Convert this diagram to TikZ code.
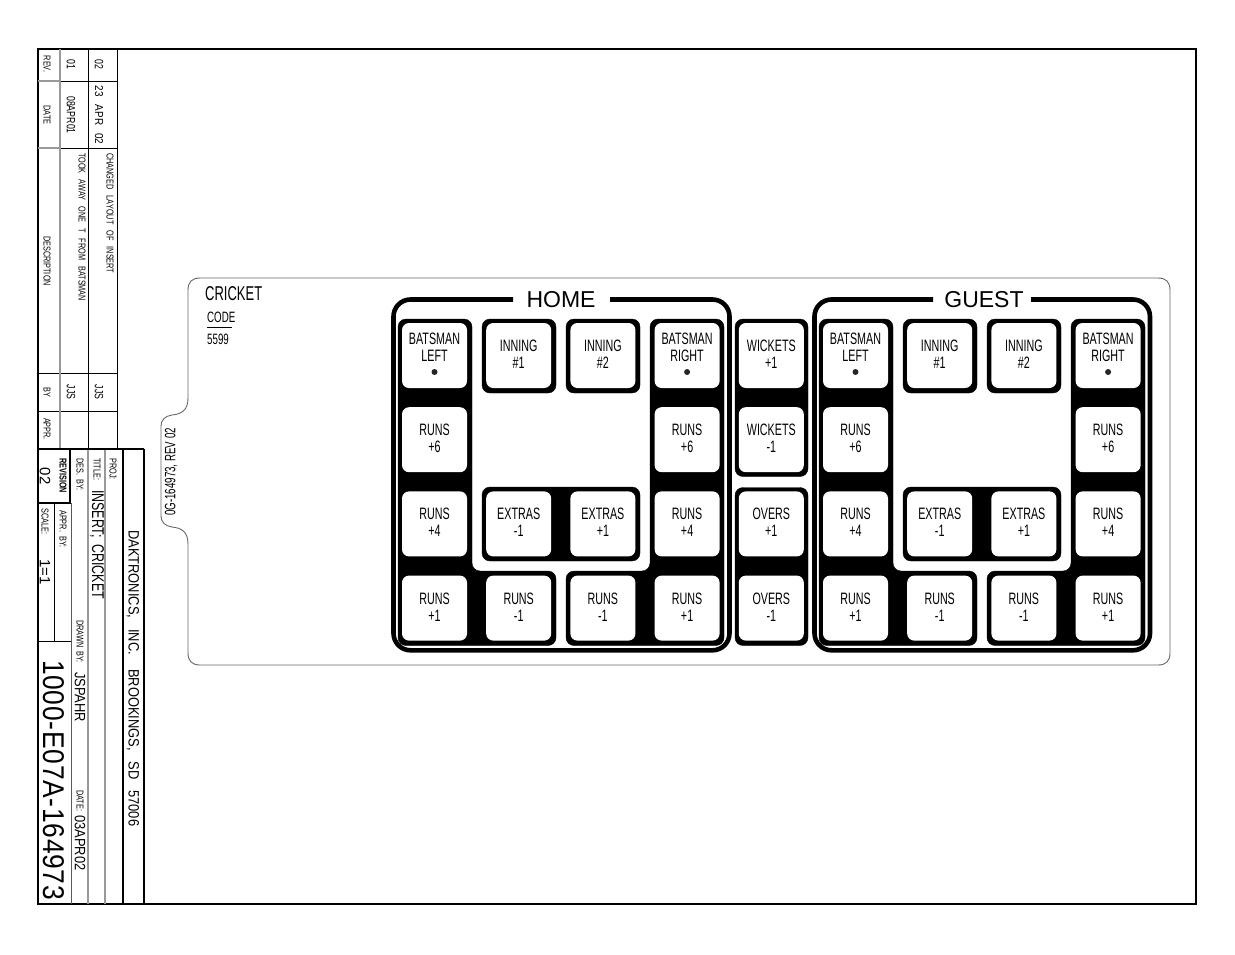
\documentclass[tikz,border=0pt]{standalone}
\usepackage{fontspec}
\setmainfont{Liberation Sans}
\newfontfamily\narrowfont[FakeStretch=0.73]{Liberation Sans}
\newfontfamily\keyfont[FakeStretch=0.65]{Liberation Sans}
\newfontfamily\midfont[FakeStretch=0.86]{Liberation Sans}
\newfontfamily\numberfont[FakeStretch=0.88,LetterSpace=2.4]{Liberation Sans}
\usetikzlibrary{positioning}
\tikzstyle{button} = [rectangle, rounded corners=7pt, minimum width=65pt, minimum height=65pt, inner sep=0pt, align=center, fill=white, text depth=2.5pt, font=\keyfont\fontsize{16.5}{17}\selectfont]
\tikzstyle{batbutton} = [button, text depth=0pt]
\tikzstyle{back} = [fill=black, rounded corners=8pt]
\tikzstyle{ring} = [draw=black, line width=4.6pt, rounded corners=17pt]
\tikzstyle{dotmark} = [circle, fill=black!85, minimum size=6pt, inner sep=0pt]
\tikzstyle{heading} = [inner sep=0pt, font=\fontsize{23}{25}\selectfont]
\tikzstyle{tiny} = [rotate=-90, anchor=west, inner sep=0pt, font=\narrowfont\fontsize{10}{12}\selectfont]
\tikzstyle{tinymid} = [rotate=-90, inner sep=0pt, font=\narrowfont\fontsize{10}{12}\selectfont]
\tikzstyle{entry} = [rotate=-90, inner sep=0pt, font=\narrowfont\fontsize{12}{14}\selectfont]
\tikzstyle{greyline} = [draw=black!40, line width=1.6pt]
\tikzstyle{thinline} = [draw=black, line width=0.9pt]
\tikzstyle{heavyline} = [draw=black, line width=2pt]

\begin{document}
\begin{tikzpicture}[x=1pt, y=-1pt, node distance=84.2pt]
    \useasboundingbox (0,0) rectangle (1235,954);
    % sheet and title block
    \draw [heavyline] (38,49) rectangle (1196,904);
    \draw [thinline] (38,81) -- (117,81);
    \draw [thinline] (38,148) -- (117,148);
    \draw [thinline] (38,373) -- (117,373);
    \draw [thinline] (38,411) -- (117,411);
    \draw [greyline] (38,81) -- (60,81);
    \draw [greyline] (38,148) -- (60,148);
    \draw [greyline] (60,49) -- (60,449);
    \draw [thinline] (88,49) -- (88,449);
    \draw [thinline] (117,49) -- (117,449);
    \draw [greyline] (88,449) -- (88,904);
    \draw [greyline] (105,449) -- (105,904);
    \draw [draw=black!65, line width=1pt] (71,503) -- (71,904);
    \draw [thinline, line width=1.2pt] (123,449) -- (123,904);
    \draw [thinline] (38,641) -- (71,641);
    \draw [thinline] (54,503) -- (54,641);
    \draw [heavyline] (38,449) -- (144,449);
    \draw [heavyline] (144,449) -- (144,904);
    \draw [heavyline] (70,449) -- (70,503) -- (38,503);

    \node (revhead) [tinymid] at (47,64) {REV.};
    \node (datehead) [tinymid] at (47,115) {DATE};
    \node (deschead) [tinymid] at (47,261) {DESCRIPTION};
    \node (byhead) [tinymid] at (47,392) {BY};
    \node (apprhead) [tinymid] at (47,429) {APPR.};
    \node (revone) [entry] at (71,64) {01};
    \node (dateone) [entry] at (71,115) {08APR01};
    \node (descone) [tiny] at (82,153) {TOOK\ \ \ AWAY\ \ \ ONE\ \ \ T\ \ \ FROM\ \ \ BATSMAN};
    \node (byone) [entry] at (71,392) {JJS};
    \node (revtwo) [entry] at (99,64) {02};
    \node (datetwo) [entry, font=\midfont\fontsize{11.5}{14}\selectfont] at (99,115) {23\ \ \ APR\ \ \ 02};
    \node (desctwo) [tiny] at (110,153) {CHANGED\ \ \ LAYOUT\ \ \ OF\ \ \ INSERT};
    \node (bytwo) [entry] at (99,392) {JJS};

    \node (revlabel) [tiny, font=\narrowfont\bfseries\fontsize{10}{12}\selectfont] at (63,458) {REVISION};
    \node (revvalue) [tinymid, font=\fontsize{15}{17}\selectfont] at (45,476) {02};
    \node (scalelabel) [tiny] at (45,508) {SCALE:};
    \node (scalevalue) [tinymid, font=\fontsize{15}{17}\selectfont] at (45,572) {1=1};
    \node (apprlabel) [tiny] at (63,510) {APPR.\ \ BY:};
    \node (deslabel) [tiny] at (80,458) {DES.\ \ BY:};
    \node (titlelabel) [tiny] at (97,458) {TITLE:};
    \node (titlevalue) [tiny, font=\narrowfont\fontsize{17}{19}\selectfont] at (97,490) {INSERT;\ \ CRICKET};
    \node (projlabel) [tiny] at (113,458) {PROJ:};
    \node (drawnlabel) [tiny] at (80,620) {DRAWN\ \ BY:};
    \node (drawnvalue) [tiny, font=\midfont\fontsize{15}{17}\selectfont] at (80,672) {JSPAHR};
    \node (datelabel) [tiny] at (80,790) {DATE:};
    \node (datevalue) [tiny, font=\midfont\fontsize{15}{17}\selectfont] at (80,815) {03APR02};
    \node (company) [tiny, font=\midfont\fontsize{15}{17}\selectfont] at (133,530) {DAKTRONICS,\ \ \ INC.\ \ \ \ BROOKINGS,\ \ \ SD\ \ \ 57006};
    \node (drawingno) [tiny, font=\numberfont\fontsize{30}{32}\selectfont] at (53.5,660) {1000-E07A-164973};

    % insert outline with tab
    \draw [draw=black!60, line width=0.9pt] (200,278) -- (1158,278) .. controls (1166,278) and (1170,282) .. (1170,290) -- (1170,653) .. controls (1170,661) and (1166,665) .. (1158,665) -- (200,665) .. controls (192,665) and (188,661) .. (188,653) -- (188,544) .. controls (188,532) and (182,528) .. (172,527) .. controls (165,526) and (161,522) .. (161,516) -- (161,426) .. controls (161,420) and (165,416) .. (172,415) .. controls (182,414) and (188,410) .. (188,398) -- (188,290) .. controls (188,282) and (192,278) .. (200,278);
    \node (tabtext) [rotate=90, inner sep=0pt, font=\keyfont\fontsize{15}{17}\selectfont] at (171,472) {0G-164973, REV 02};
    \node (cricket) [anchor=west, inner sep=0pt, font=\keyfont\fontsize{20}{22}\selectfont] at (205,293.5) {CRICKET};
    \node (codelabel) [anchor=west, inner sep=0pt, font=\keyfont\fontsize{15}{17}\selectfont] at (207,317) {CODE};
    \node (codevalue) [anchor=west, inner sep=0pt, font=\keyfont\fontsize{15}{17}\selectfont] at (207,339) {5599};
    \draw [thinline] (207,327) -- (232,327);

    % black backs, home
    \draw [back] (398,319) -- (472,319) -- (472,571) -- (556,571) -- (556,645.5) -- (398,645.5) -- cycle;
    \draw [back] (724,319) -- (650,319) -- (650,571) -- (566,571) -- (566,645.5) -- (724,645.5) -- cycle;
    \draw [back] (482,319) rectangle (556,393);
    \draw [back] (566,319) rectangle (640,393);
    \draw [back] (482,487) rectangle (640,561);
    % black backs, middle
    \draw [back] (735,319) rectangle (808,476.5);
    \draw [back] (735,487.5) rectangle (808,645.5);
    % black backs, guest
    \draw [back] (819,319) -- (893,319) -- (893,571) -- (977,571) -- (977,645.5) -- (819,645.5) -- cycle;
    \draw [back] (1145,319) -- (1071,319) -- (1071,571) -- (987,571) -- (987,645.5) -- (1145,645.5) -- cycle;
    \draw [back] (903,319) rectangle (977,393);
    \draw [back] (987,319) rectangle (1061,393);
    \draw [back] (903,487) rectangle (1061,561);

    \draw [ring] (513,299.5) -- (393.5,299.5) -- (393.5,650.3) -- (729.5,650.3) -- (729.5,299.5) -- (610,299.5);
    \draw [ring] (933,299.5) -- (814.5,299.5) -- (814.5,650.3) -- (1150,650.3) -- (1150,299.5) -- (1031,299.5);
    \node (home) [heading] at (561,300) {HOME};
    \node (guest) [heading] at (984,300) {GUEST};

    % top row
    \node (batleft) [batbutton] at (434.5,355.5) {BATSMAN\\LEFT\\};
    \node (innone) [button, right of=batleft] {INNING\\\#1};
    \node (inntwo) [button, right of=innone] {INNING\\\#2};
    \node (batright) [batbutton, right of=inntwo] {BATSMAN\\RIGHT\\};
    \node (wickup) [button, right of=batright] {WICKETS\\+1};
    \node (gbatleft) [batbutton, right of=wickup] {BATSMAN\\LEFT\\};
    \node (ginnone) [button, right of=gbatleft] {INNING\\\#1};
    \node (ginntwo) [button, right of=ginnone] {INNING\\\#2};
    \node (gbatright) [batbutton, right of=ginntwo] {BATSMAN\\RIGHT\\};
    \node (dotleft) [dotmark] at ([yshift=-16.5pt]batleft.center) {};
    \node (dotright) [dotmark] at ([yshift=-16.5pt]batright.center) {};
    \node (gdotleft) [dotmark] at ([yshift=-16.5pt]gbatleft.center) {};
    \node (gdotright) [dotmark] at ([yshift=-16.5pt]gbatright.center) {};

    % second row
    \node (sixleft) [button, below of=batleft] {RUNS\\+6};
    \node (sixright) [button, below of=batright] {RUNS\\+6};
    \node (wickdown) [button, below of=wickup] {WICKETS\\-1};
    \node (gsixleft) [button, below of=gbatleft] {RUNS\\+6};
    \node (gsixright) [button, below of=gbatright] {RUNS\\+6};

    % third row
    \node (fourleft) [button, below of=sixleft] {RUNS\\+4};
    \node (extdown) [button, right of=fourleft] {EXTRAS\\-1};
    \node (extup) [button, right of=extdown] {EXTRAS\\+1};
    \node (fourright) [button, below of=sixright] {RUNS\\+4};
    \node (oversup) [button, below of=wickdown] {OVERS\\+1};
    \node (gfourleft) [button, below of=gsixleft] {RUNS\\+4};
    \node (gextdown) [button, right of=gfourleft] {EXTRAS\\-1};
    \node (gextup) [button, right of=gextdown] {EXTRAS\\+1};
    \node (gfourright) [button, below of=gsixright] {RUNS\\+4};

    % bottom row
    \node (oneleft) [button, below of=fourleft] {RUNS\\+1};
    \node (minusleft) [button, right of=oneleft] {RUNS\\-1};
    \node (minusright) [button, right of=minusleft] {RUNS\\-1};
    \node (oneright) [button, right of=minusright] {RUNS\\+1};
    \node (oversdown) [button, right of=oneright] {OVERS\\-1};
    \node (goneleft) [button, right of=oversdown] {RUNS\\+1};
    \node (gminusleft) [button, right of=goneleft] {RUNS\\-1};
    \node (gminusright) [button, right of=gminusleft] {RUNS\\-1};
    \node (goneright) [button, right of=gminusright] {RUNS\\+1};
\end{tikzpicture}
\end{document}
